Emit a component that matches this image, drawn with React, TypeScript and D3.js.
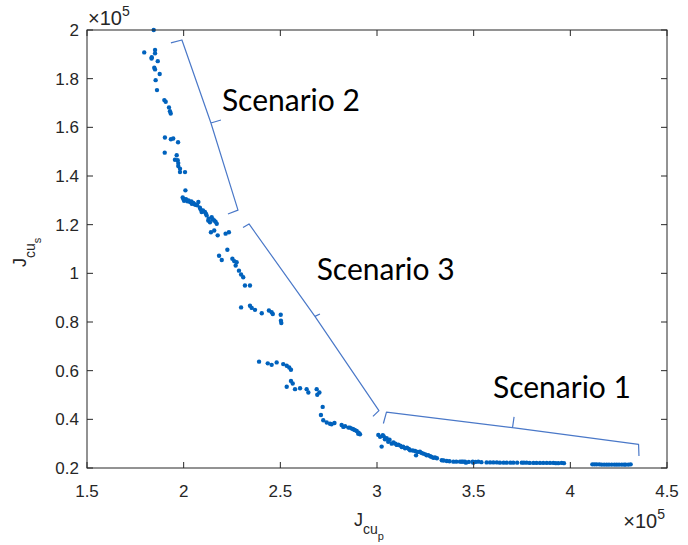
import * as d3 from "d3";

// J_cu_p values (x10^5)
const xVals = [
  1.845, 1.796, 1.835, 1.834, 1.852, 1.852, 1.866, 1.848, 1.852, 1.876, 1.855, 1.862,
  1.9, 1.907, 1.924, 1.929, 1.933, 1.903, 1.934, 1.946, 1.971, 1.902, 1.964, 1.955,
  1.969, 1.972, 1.972, 1.981, 1.981, 2.007, 2.009, 1.998, 2.007, 2.019, 2.033, 2.042,
  2.05, 2.062, 2.076, 2.084, 2.093, 2.11, 2.119, 2.127, 2.136, 2.145, 2.158, 2.171,
  2.141, 2.158, 2.176, 2.217, 2.234, 2.226, 2.183, 2.197, 2.252, 2.262, 2.274, 2.269,
  2.286, 2.297, 2.308, 2.317, 2.343, 2.297, 2.343, 2.352, 2.369, 2.404, 2.441, 2.455,
  2.461, 2.502, 2.503, 2.505, 2.39, 2.435, 2.455, 2.481, 2.515, 2.533, 2.546, 2.555,
  2.555, 2.564, 2.533, 2.576, 2.602, 2.636, 2.645, 2.688, 2.702, 2.691, 2.719, 2.71,
  2.722, 2.74, 2.757, 2.817, 2.826, 2.852, 2.86, 2.877, 2.895, 2.903, 2.912, 3.007,
  3.016, 3.024, 3.041, 3.058, 3.076, 3.102, 3.128, 3.145, 3.171, 3.197, 3.202, 3.222,
  3.24, 3.257, 3.274, 3.291, 3.335, 3.361, 3.395, 3.429, 3.455, 3.495, 3.524, 3.567,
  3.602, 3.636, 3.671, 3.705, 3.749, 3.774, 3.809, 3.843, 3.878, 3.912, 3.938, 3.967,
  3.46, 3.498, 3.438, 4.114, 4.136, 4.162, 4.188, 4.214, 4.24, 4.266, 4.286, 4.312,
  1.995, 2.002, 2.012, 2.025, 2.04, 2.055, 2.07, 2.088, 2.1, 2.115, 2.13, 2.15, 2.165,
  3.03, 3.035, 3.05, 3.065, 3.085, 3.095, 3.11, 3.12, 3.135, 3.155, 3.165, 3.185, 3.21,
  3.23, 3.25, 3.265, 3.28, 3.3, 3.31, 3.345, 3.375, 3.41, 3.445, 3.475, 3.51, 3.54,
  3.585, 3.62, 3.655, 3.69, 3.725, 3.76, 3.79, 3.825, 3.86, 3.895, 3.925, 3.955, 4.125,
  4.15, 4.175, 4.2, 4.228, 4.252, 4.278, 4.3, 2.765, 2.78, 2.835, 2.87, 2.885, 2.905,
];

// J_cu_s values (x10^5)
const yVals = [
  2.0, 1.908, 1.888, 1.883, 1.918, 1.904, 1.872, 1.845, 1.838, 1.819, 1.794, 1.753,
  1.712, 1.705, 1.682, 1.666, 1.657, 1.558, 1.551, 1.554, 1.539, 1.496, 1.485, 1.467,
  1.465, 1.453, 1.441, 1.43, 1.416, 1.416, 1.341, 1.307, 1.303, 1.296, 1.293, 1.286,
  1.289, 1.282, 1.293, 1.27, 1.252, 1.252, 1.238, 1.217, 1.21, 1.231, 1.217, 1.204,
  1.169, 1.176, 1.156, 1.163, 1.169, 1.097, 1.072, 1.055, 1.06, 1.05, 1.046, 1.032,
  1.011, 0.995, 0.984, 0.95, 0.95, 0.86, 0.867, 0.858, 0.85, 0.836, 0.847, 0.84,
  0.833, 0.83, 0.805, 0.796, 0.637, 0.63, 0.624, 0.634, 0.627, 0.62, 0.613, 0.604,
  0.558, 0.547, 0.534, 0.524, 0.528, 0.524, 0.51, 0.524, 0.51, 0.501, 0.451, 0.418,
  0.396, 0.387, 0.382, 0.377, 0.369, 0.366, 0.366, 0.359, 0.352, 0.341, 0.339, 0.336,
  0.328, 0.288, 0.318, 0.308, 0.3, 0.295, 0.286, 0.281, 0.273, 0.27, 0.252, 0.267,
  0.259, 0.252, 0.249, 0.242, 0.232, 0.229, 0.226, 0.226, 0.226, 0.226, 0.226, 0.223,
  0.223, 0.222, 0.222, 0.222, 0.222, 0.222, 0.221, 0.221, 0.221, 0.221, 0.22, 0.22,
  0.222, 0.222, 0.226, 0.215, 0.215, 0.214, 0.214, 0.214, 0.214, 0.214, 0.214, 0.215,
  1.312, 1.298, 1.305, 1.3, 1.295, 1.284, 1.28, 1.262, 1.258, 1.245, 1.225, 1.222, 1.212,
  0.335, 0.33, 0.322, 0.316, 0.305, 0.3, 0.296, 0.292, 0.288, 0.283, 0.278, 0.272, 0.266,
  0.262, 0.256, 0.253, 0.246, 0.243, 0.24, 0.231, 0.228, 0.226, 0.226, 0.225, 0.225, 0.224,
  0.223, 0.223, 0.222, 0.222, 0.222, 0.222, 0.221, 0.221, 0.221, 0.221, 0.22, 0.221, 0.215,
  0.215, 0.214, 0.214, 0.214, 0.214, 0.214, 0.214, 0.38, 0.385, 0.372, 0.362, 0.356, 0.345,
];

const xTicks = [1.5, 2, 2.5, 3, 3.5, 4, 4.5];
const xTickLabels = ["1.5", "2", "2.5", "3", "3.5", "4", "4.5"];
const yTicks = [0.2, 0.4, 0.6, 0.8, 1, 1.2, 1.4, 1.6, 1.8, 2];
const yTickLabels = ["0.2", "0.4", "0.6", "0.8", "1", "1.2", "1.4", "1.6", "1.8", "2"];

// annotation text, anchored at its left baseline (data units)
const scenarioNames = ["Scenario 2", "Scenario 3", "Scenario 1"];
const scenarioX = [2.198, 2.688, 3.6];
const scenarioY = [1.667, 0.973, 0.488];

// braces: hook, corner, middle, nub tip, corner, hook
const braces: [number, number][][] = [
  [[1.934, 1.947], [1.991, 1.959], [2.141, 1.618], [2.193, 1.63], [2.281, 1.26], [2.229, 1.244]],
  [[2.307, 1.188], [2.338, 1.203], [2.679, 0.823], [2.705, 0.833], [3.01, 0.436], [2.979, 0.412]],
  [[3.033, 0.383], [3.049, 0.43], [3.701, 0.366], [3.709, 0.41], [4.353, 0.297], [4.355, 0.249]],
];

const W = 688;
const H = 545;
const margin = { top: 30, right: 21, bottom: 77, left: 87 };
const axisColor = "#262626";
const dotColor = "#0062bd";
const braceColor = "#4a78c8";
const tickFont = "'Liberation Sans', Arial, Helvetica, sans-serif";
const noteFont = "Lato, 'Open Sans', sans-serif";

export default function App() {
  const x = d3.scaleLinear().domain([1.5, 4.5]).range([margin.left, W - margin.right]);
  const y = d3.scaleLinear().domain([0.2, 2]).range([H - margin.bottom, margin.top]);
  const [x0, x1] = x.range();
  const [yb, yt] = y.range();
  const tickLen = 6;

  const bracePath = (b: [number, number][]) => {
    const p = b.map(([a, c]) => [x(a), y(c)]);
    const line = d3.line();
    return (
      line([p[0], p[1], p[2], p[3]] as [number, number][]) +
      line([p[2], p[4], p[5]] as [number, number][])
    );
  };

  return (
    <svg
      width={W}
      height={H}
      style={{ position: "absolute", left: 0, top: 0, background: "#fff" }}
    >
      {/* points */}
      <g fill={dotColor}>
        {xVals.map((v, i) => (
          <circle key={i} cx={x(v)} cy={y(yVals[i])} r={2.2} />
        ))}
      </g>

      {/* box and ticks */}
      <rect
        x={x0}
        y={yt}
        width={x1 - x0}
        height={yb - yt}
        fill="none"
        stroke={axisColor}
        strokeWidth={1}
      />
      <g stroke={axisColor} strokeWidth={1}>
        {xTicks.map((t) => (
          <g key={t}>
            <line x1={x(t)} x2={x(t)} y1={yb} y2={yb - tickLen} />
            <line x1={x(t)} x2={x(t)} y1={yt} y2={yt + tickLen} />
          </g>
        ))}
        {yTicks.map((t) => (
          <g key={t}>
            <line x1={x0} x2={x0 + tickLen} y1={y(t)} y2={y(t)} />
            <line x1={x1} x2={x1 - tickLen} y1={y(t)} y2={y(t)} />
          </g>
        ))}
      </g>

      {/* tick labels */}
      <g fill={axisColor} fontFamily={tickFont} fontSize={17}>
        {xTicks.map((t, i) => (
          <text key={t} x={x(t)} y={yb + 29} textAnchor="middle">
            {xTickLabels[i]}
          </text>
        ))}
        {yTicks.map((t, i) => (
          <text key={t} x={x0 - 8} y={y(t) + 6} textAnchor="end">
            {yTickLabels[i]}
          </text>
        ))}
      </g>

      {/* exponents */}
      <g fill={axisColor} fontFamily={tickFont}>
        <text x={x0 + 1} y={yt - 5} style={{ fontSize: "20px" }}>
          <tspan>×10</tspan>
          <tspan dy={-9} style={{ fontSize: "14px" }}>5</tspan>
        </text>
        <text x={x1 - 2} y={yb + 60} textAnchor="end" style={{ fontSize: "20px" }}>
          <tspan>×10</tspan>
          <tspan dy={-9} style={{ fontSize: "14px" }}>5</tspan>
        </text>
      </g>

      {/* axis labels */}
      <g fill={axisColor} fontFamily={tickFont}>
        <text x={(x0 + x1) / 2 - 23} y={yb + 58} style={{ fontSize: "18px" }}>
          <tspan>J</tspan>
          <tspan dy={8} style={{ fontSize: "14px" }}>cu</tspan>
          <tspan dy={6} style={{ fontSize: "11px" }}>p</tspan>
        </text>
        <text
          transform={`translate(26, ${(yt + yb) / 2 + 18}) rotate(-90)`}
          style={{ fontSize: "18px" }}
        >
          <tspan>J</tspan>
          <tspan dy={9} style={{ fontSize: "14px" }}>cu</tspan>
          <tspan dy={6} style={{ fontSize: "11px" }}>s</tspan>
        </text>
      </g>

      {/* braces */}
      <g fill="none" stroke={braceColor} strokeWidth={1.2} strokeLinejoin="round">
        {braces.map((b, i) => (
          <path key={i} d={bracePath(b)} />
        ))}
      </g>

      {/* scenario notes */}
      <g fill="#000" fontFamily={noteFont} fontSize={30}>
        {scenarioNames.map((s, i) => (
          <text key={s} x={x(scenarioX[i])} y={y(scenarioY[i])}>
            {s}
          </text>
        ))}
      </g>
    </svg>
  );
}
